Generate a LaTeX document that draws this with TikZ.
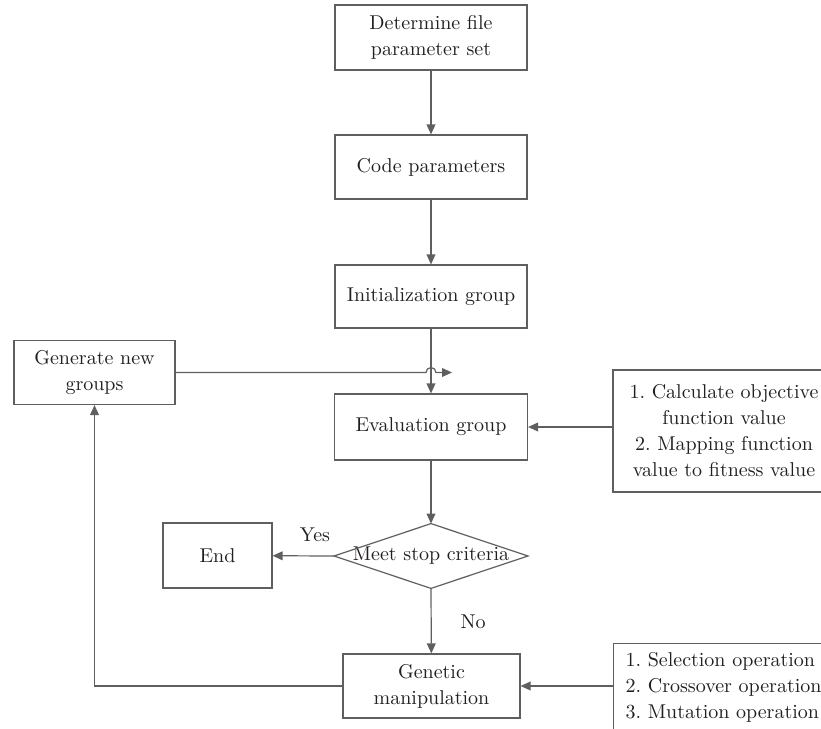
\documentclass[tikz,border=0pt]{standalone}
\usepackage{tikz}
\usetikzlibrary{arrows.meta}
\definecolor{linegray}{HTML}{5F5F5F}
\definecolor{textblack}{HTML}{231F20}

\begin{document}
\begin{tikzpicture}[x = 0.5pt, y = -0.5pt, font = \fontsize{10}{13}\selectfont\frenchspacing,
        box/.style = {draw = linegray, line width = 0.6pt, text = textblack, align = center, inner sep = 0pt},
        note/.style = {text = textblack, inner sep = 0pt},
        flow/.style = {draw = linegray, line width = 0.6pt, -{Triangle[length = 5pt, width = 4.4pt]}},
        link/.style = {draw = linegray, line width = 0.6pt}]
        \useasboundingbox (0,0) rectangle (821,729);

        % main column
        \node[box, minimum width = 96pt, minimum height = 32.5pt] (detset) at (431,37.5) {Determine file\\parameter set};
        \node[box, minimum width = 96pt, minimum height = 32pt] (codepar) at (431,167) {Code parameters};
        \node[box, minimum width = 96pt, minimum height = 31.5pt] (initgrp) at (431,296.5) {Initialization group};
        \node[box, minimum width = 96.5pt, minimum height = 33pt] (evalgrp) at (431,427) {Evaluation group};
        \node[note, minimum width = 96.5pt, minimum height = 32pt] (stopcrit) at (431,556) {Meet stop criteria};
        \draw[link] (stopcrit.west) -- (stopcrit.north) -- (stopcrit.east) -- (stopcrit.south) -- cycle;
        \node[box, minimum width = 88.5pt, minimum height = 32pt] (genman) at (431.5,686) {Genetic\\manipulation};

        % side boxes
        \node[box, minimum width = 54.5pt, minimum height = 32.5pt] (endbox) at (217.5,555.5) {End};
        \node[box, minimum width = 80.5pt, minimum height = 32pt] (newgrp) at (94.5,372.5) {Generate new\\groups};
        \node[box, minimum width = 111pt, minimum height = 61pt] (fitness) at (724,431)
            {1. Calculate objective\\function value\\2. Mapping function\\value to fitness value};
        \node[box, align = left, anchor = north west, text width = 100pt, inner xsep = 6pt,
            minimum height = 44pt] (operations) at (613,643)
            {1. Selection operation\\2. Crossover operation\\3. Mutation operation};

        % labels
        \node[note] (yeslbl) at (315,535) {Yes};
        \node[note] (nolbl) at (473,622) {No};

        % connectors
        \draw[flow] (detset) -- (codepar);
        \draw[flow] (codepar) -- (initgrp);
        \draw[flow] (initgrp) -- (evalgrp);
        \draw[flow] (evalgrp) -- (stopcrit.north);
        \draw[flow] (stopcrit.west) -- (endbox);
        \draw[flow] (stopcrit.south) -- (genman);
        \draw[flow] (fitness.west |- evalgrp.east) -- (evalgrp.east);
        \draw[flow] (operations.west |- genman.east) -- (genman.east);
        \draw[flow] (genman.west) -| (newgrp.south);

        \coordinate (hopend) at (452,372.5);
        \draw[flow] (newgrp.east) -- (426,372.5) arc[start angle = 180, end angle = 360, radius = 5] -- (hopend);
\end{tikzpicture}
\end{document}
